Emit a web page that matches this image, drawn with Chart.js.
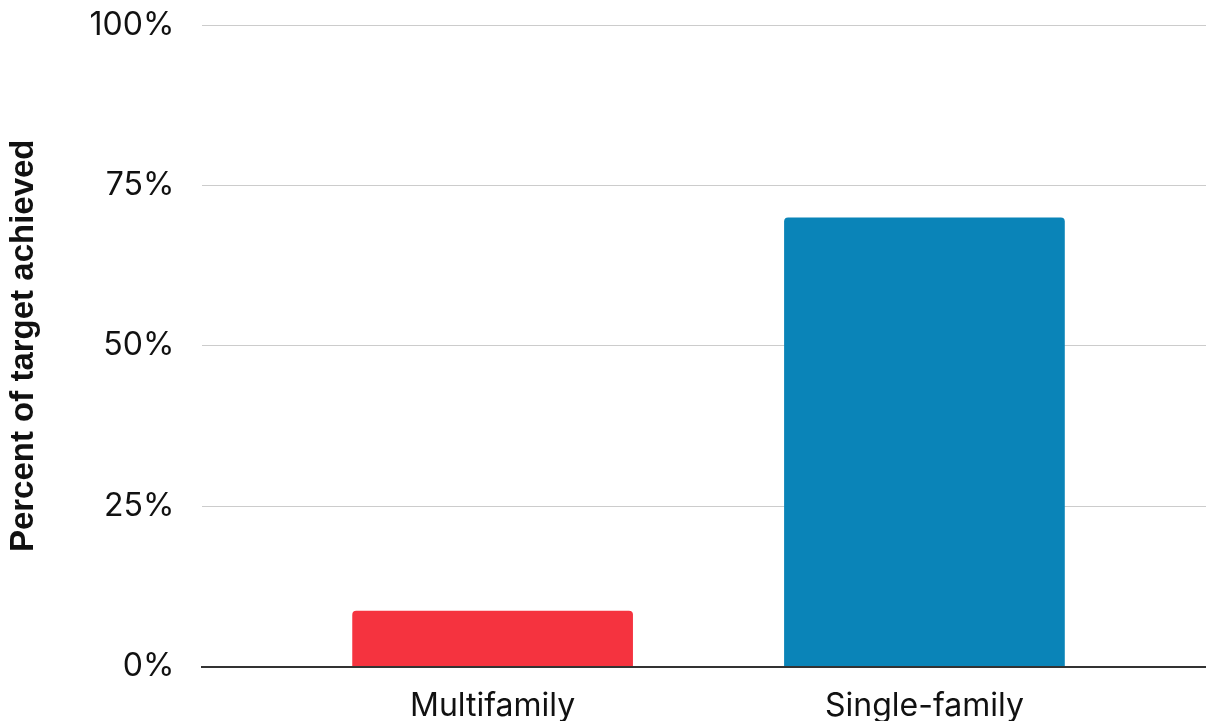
<!DOCTYPE html>
<html>
<head>
<meta charset="utf-8">
<script src="https://cdn.jsdelivr.net/npm/chart.js@4.4.1/dist/chart.umd.min.js"></script>
<style>
  html, body { margin: 0; padding: 0; background: #fff; }
  #wrap { width: 1206px; height: 721px; position: relative; }
</style>
</head>
<body>
<div id="wrap"><canvas id="chart"></canvas></div>
<script>
const categories = ["Multifamily", "Single-family"];
const percentAchieved = [8.7, 70.0];
const barColors = ["#F5333F", "#0A84B8"];
const yTicks = [0, 25, 50, 75, 100];

// bars sit at x = 0, 1 on a linear axis so the plot can run wider than the bars
const points = percentAchieved.map((v, i) => ({ x: i, y: v }));

new Chart(document.getElementById("chart"), {
  type: "bar",
  data: {
    datasets: [{
      data: points,
      backgroundColor: barColors,
      borderRadius: { topLeft: 4, topRight: 4 },
      borderSkipped: "bottom",
      categoryPercentage: 1,
      barPercentage: 0.65
    }]
  },
  options: {
    responsive: true,
    maintainAspectRatio: false,
    animation: false,
    layout: { padding: { top: 25, right: 0, bottom: -26, left: 4 } },
    plugins: { legend: { display: false }, tooltip: { enabled: false } },
    scales: {
      x: {
        type: "linear",
        offset: false,
        bounds: "data",
        min: -0.672,
        max: 1.652,
        afterBuildTicks: (axis) => { axis.ticks = categories.map((c, i) => ({ value: i })); },
        ticks: {
          autoSkip: false,
          maxRotation: 0,
          padding: 21,
          color: "#111",
          font: { family: "Inter", size: 32 },
          callback: (v) => categories[v]
        },
        grid: { display: false, drawTicks: false, offset: false },
        border: { display: true, color: "#333", width: 2 }
      },
      y: {
        min: 0,
        max: 100,
        afterBuildTicks: (axis) => { axis.ticks = yTicks.map(v => ({ value: v })); },
        // let the layout padding decide where the plot starts and ends
        afterFit: (axis) => { axis.paddingTop = 0; axis.paddingBottom = 0; },
        ticks: {
          padding: 28,
          color: "#111",
          font: { family: "Inter", size: 32 },
          callback: (v) => v + "%"
        },
        grid: { color: "#cccccc", lineWidth: 1, drawTicks: false },
        border: { display: false },
        title: {
          display: true,
          text: "Percent of target achieved",
          color: "#111",
          padding: { top: 0, bottom: 18 },
          font: { family: "Liberation Sans", size: 33, weight: "bold" }
        }
      }
    }
  }
});
</script>
</body>
</html>
